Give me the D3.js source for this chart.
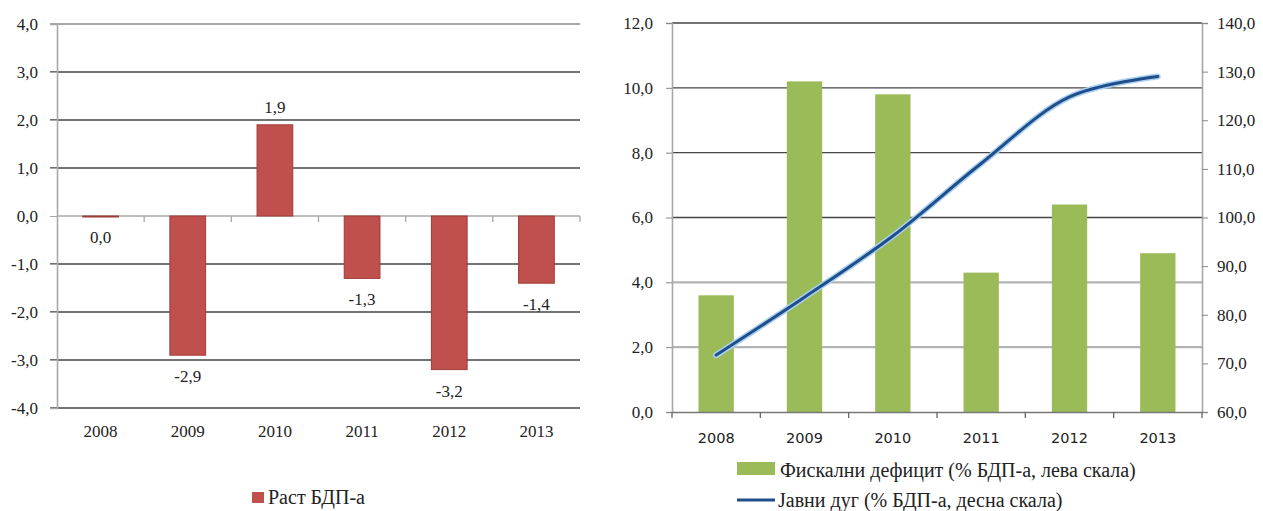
<!DOCTYPE html>
<html>
<head>
<meta charset="utf-8">
<script src="https://cdn.jsdelivr.net/npm/d3@7"></script>
<style>
  body { margin: 0; background: #fff; }
  svg { display: block; }
  svg text { font-family: "Liberation Serif", "Tinos", "DejaVu Serif", "Noto Serif", serif !important; fill: #222; }
  svg text.sans { font-family: "DejaVu Sans", Verdana, sans-serif !important; }
</style>
</head>
<body>
<svg width="1263" height="511"></svg>
<script>
const years = ["2008", "2009", "2010", "2011", "2012", "2013"];
const gdpGrowth = [0.0, -2.9, 1.9, -1.3, -3.2, -1.4];
const fiscalDeficit = [3.6, 10.2, 9.8, 4.3, 6.4, 4.9];
const publicDebt = [71.7, 83.6, 96.2, 111.1, 124.8, 129.0];

const growthTicks = [-4, -3, -2, -1, 0, 1, 2, 3, 4];
const deficitTicks = [0, 2, 4, 6, 8, 10, 12];
const debtTicks = [60, 70, 80, 90, 100, 110, 120, 130, 140];

const growthLabel = "Раст БДП-а";
const deficitLabel = "Фискални дефицит (% БДП-а, лева скала)";
const debtLabel = "Јавни дуг (% БДП-а, десна скала)";

const svg = d3.select("svg");
const fmt = d3.formatLocale({ decimal: ",", thousands: ".", grouping: [3], currency: ["", ""], minus: "-" }).format(".1f");

const red = "#c0504d";
const green = "#9bbb59";
const navy = "#1f4e8a";
const gridDark = "#454545";
const gridLight = "#b4b4b4";
const axisGray = "#a8a8a8";

// ---------- лівий графік: раст БДП-а ----------
const x1 = d3.scaleBand().domain(years).range([57, 580]).paddingInner(0.59).paddingOuter(0.295);
const y1 = d3.scaleLinear().domain([-4, 4]).range([408, 24]);

const g1 = svg.append("g");

g1.append("g").selectAll("line")
  .data(growthTicks.filter(d => d !== 0))
  .join("line")
  .attr("x1", 50).attr("x2", 580)
  .attr("y1", d => y1(d)).attr("y2", d => y1(d))
  .attr("stroke", d => d === 4 ? "#8a8a8a" : gridDark)
  .attr("stroke-width", 1.3);

g1.append("g")
  .attr("transform", "translate(57,0)")
  .call(d3.axisLeft(y1).tickValues(growthTicks).tickFormat(fmt).tickSize(7).tickPadding(12))
  .call(g => g.select(".domain").attr("stroke", axisGray).attr("stroke-width", 1.6))
  .call(g => g.selectAll(".tick line").attr("stroke", axisGray))
  .call(g => g.selectAll(".tick text").attr("font-size", 17));

// нульова вісь з рисками між категоріями
const zeroAxis = g1.append("g");
zeroAxis.append("line")
  .attr("x1", 57).attr("x2", 580)
  .attr("y1", y1(0)).attr("y2", y1(0))
  .attr("stroke", axisGray).attr("stroke-width", 1.6);
zeroAxis.selectAll("line.tick")
  .data(years.slice(1).concat(["end"]))
  .join("line")
  .attr("class", "tick")
  .attr("x1", d => d === "end" ? 580 : x1(d) - x1.step() * x1.paddingInner() / 2)
  .attr("x2", d => d === "end" ? 580 : x1(d) - x1.step() * x1.paddingInner() / 2)
  .attr("y1", y1(0)).attr("y2", y1(0) + 6)
  .attr("stroke", axisGray).attr("stroke-width", 1.3);

g1.selectAll("rect.bar")
  .data(years)
  .join("rect")
  .attr("class", "bar")
  .attr("x", d => x1(d))
  .attr("width", x1.bandwidth())
  .attr("y", (d, i) => y1(Math.max(0, gdpGrowth[i])))
  .attr("height", (d, i) => Math.max(1, Math.abs(y1(gdpGrowth[i]) - y1(0))))
  .attr("fill", red)
  .attr("stroke", "#9e3b38")
  .attr("stroke-width", 1);

g1.selectAll("text.xlab")
  .data(years)
  .join("text")
  .attr("class", "xlab")
  .attr("x", d => x1(d) + x1.bandwidth() / 2)
  .attr("y", 437)
  .attr("text-anchor", "middle")
  .attr("font-size", 17)
  .text(d => d);

g1.selectAll("text.val")
  .data(years)
  .join("text")
  .attr("class", "val")
  .attr("x", d => x1(d) + x1.bandwidth() / 2)
  .attr("y", (d, i) => gdpGrowth[i] > 0 ? y1(gdpGrowth[i]) - 12 : y1(gdpGrowth[i]) + 27)
  .attr("text-anchor", "middle")
  .attr("font-size", 17)
  .text((d, i) => fmt(gdpGrowth[i]));

const leg1 = g1.append("g").attr("transform", "translate(252,492)");
leg1.append("rect").attr("width", 12).attr("height", 11).attr("fill", red);
leg1.append("text").attr("x", 16).attr("y", 12).attr("font-size", 20).text(growthLabel);

// ---------- правий графік: дефіцит і дуг ----------
const x2 = d3.scaleBand().domain(years).range([672, 1202]).paddingInner(0.6).paddingOuter(0.3);
const y2 = d3.scaleLinear().domain([0, 12]).range([412, 23]);
const y3 = d3.scaleLinear().domain([60, 140]).range([412, 23]);

const g2 = svg.append("g");

g2.append("g").selectAll("line")
  .data(deficitTicks.filter(d => d !== 0))
  .join("line")
  .attr("x1", 672).attr("x2", 1202)
  .attr("y1", d => y2(d)).attr("y2", d => y2(d))
  .attr("stroke", d => d <= 4 ? gridLight : gridDark)
  .attr("stroke-width", d => d <= 4 ? 2.2 : 1.4);

g2.selectAll("rect.bar")
  .data(years)
  .join("rect")
  .attr("class", "bar")
  .attr("x", d => x2(d))
  .attr("width", x2.bandwidth())
  .attr("y", (d, i) => y2(fiscalDeficit[i]))
  .attr("height", (d, i) => y2(0) - y2(fiscalDeficit[i]))
  .attr("fill", green);

g2.append("g")
  .attr("transform", "translate(672,0)")
  .call(d3.axisLeft(y2).tickValues(deficitTicks).tickFormat(fmt).tickSize(6).tickPadding(13))
  .call(g => g.select(".domain").attr("stroke", axisGray).attr("stroke-width", 1.6))
  .call(g => g.selectAll(".tick line").attr("stroke", "#888"))
  .call(g => g.selectAll(".tick text").attr("font-size", 17));

g2.append("g")
  .attr("transform", "translate(1202,0)")
  .call(d3.axisRight(y3).tickValues(debtTicks).tickFormat(fmt).tickSize(6).tickPadding(9))
  .call(g => g.select(".domain").attr("stroke", axisGray).attr("stroke-width", 1.6))
  .call(g => g.selectAll(".tick line").attr("stroke", "#888"))
  .call(g => g.selectAll(".tick text").attr("font-size", 17));

g2.append("g")
  .attr("transform", `translate(0,${y2(0)})`)
  .call(d3.axisBottom(x2).tickValues([]).tickSizeOuter(0))
  .call(g => g.select(".domain").attr("stroke", "#777").attr("stroke-width", 1.6));

g2.selectAll("line.xtick")
  .data(d3.range(years.length + 1))
  .join("line")
  .attr("class", "xtick")
  .attr("x1", i => 672 + i * x2.step())
  .attr("x2", i => 672 + i * x2.step())
  .attr("y1", y2(0)).attr("y2", y2(0) + 6)
  .attr("stroke", "#666").attr("stroke-width", 1.3);

g2.selectAll("text.xlab")
  .data(years)
  .join("text")
  .attr("class", "xlab sans")
  .attr("x", d => x2(d) + x2.bandwidth() / 2)
  .attr("y", 443)
  .attr("text-anchor", "middle")
  .attr("font-size", 14.5)
  .text(d => d);

const debtLine = d3.line()
  .x((d, i) => x2(years[i]) + x2.bandwidth() / 2)
  .y(d => y3(d))
  .curve(d3.curveCatmullRom.alpha(0.5));

g2.append("path")
  .datum(publicDebt)
  .attr("fill", "none")
  .attr("stroke", "#a9d0f0")
  .attr("stroke-width", 6)
  .attr("stroke-linecap", "round")
  .attr("d", debtLine);

g2.append("path")
  .datum(publicDebt)
  .attr("fill", "none")
  .attr("stroke", navy)
  .attr("stroke-width", 3)
  .attr("stroke-linecap", "round")
  .attr("d", debtLine);

const leg2 = g2.append("g").attr("transform", "translate(737,0)");
leg2.append("rect").attr("y", 462).attr("width", 38).attr("height", 13).attr("fill", green);
leg2.append("text").attr("x", 43).attr("y", 477).attr("font-size", 20).text(deficitLabel);
leg2.append("line").attr("x1", 0).attr("x2", 38).attr("y1", 500).attr("y2", 500).attr("stroke", navy).attr("stroke-width", 3);
leg2.append("text").attr("x", 41).attr("y", 507).attr("font-size", 20).text(debtLabel);
</script>
</body>
</html>
